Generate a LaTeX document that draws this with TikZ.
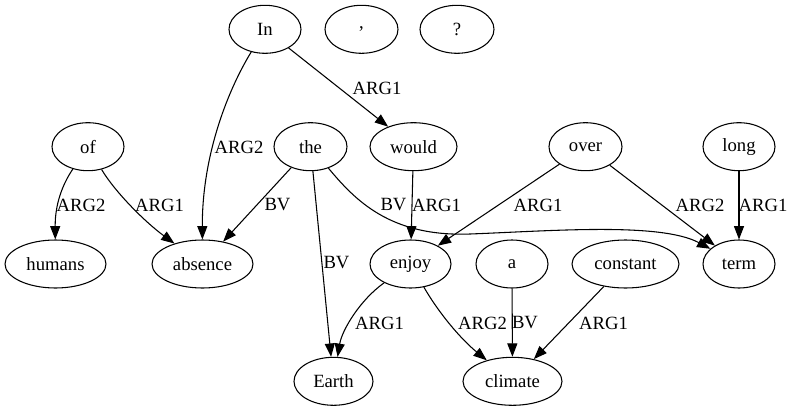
\documentclass[tikz,border=0pt]{standalone}
\usepackage{fontspec}
\setmainfont{Liberation Serif}
\usetikzlibrary{arrows.meta,shapes.geometric}
\begin{document}
\begin{tikzpicture}[x=0.75pt,y=-0.75pt,
  nd/.style={ellipse,draw,line width=0.8pt,inner sep=0pt,minimum height=36pt,font=\fontsize{14pt}{16pt}\selectfont},
  lbl/.style={inner sep=0pt,font=\fontsize{14pt}{16pt}\selectfont},
  edge/.style={draw,line width=0.8pt,-{Triangle[length=10pt,width=7.5pt]}}]
\useasboundingbox (0,0) rectangle (793,411);
% nodes
\node[nd,minimum width=54pt]    (In)       at (265,29.3)   {In};
\node[nd,minimum width=54.75pt] (comma)    at (361.5,29.3) {,};
\node[nd,minimum width=55.5pt]  (qm)       at (457,29.3)   {?};
\node[nd,minimum width=54pt]    (of)       at (88,146.7)   {of};
\node[nd,minimum width=54.75pt] (the)      at (310.5,146.7){the};
\node[nd,minimum width=65.25pt] (would)    at (413.5,146.7){would};
\node[nd,minimum width=54.75pt] (over)     at (585.5,146.7){over};
\node[nd,minimum width=54pt]    (long)     at (739,146.7)  {long};
\node[nd,minimum width=75.75pt] (humans)   at (55.5,264)   {humans};
\node[nd,minimum width=75.75pt] (absence)  at (202.5,264)  {absence};
\node[nd,minimum width=60.75pt] (enjoy)    at (410.5,264)  {enjoy};
\node[nd,minimum width=54pt]    (a)        at (512,264)    {a};
\node[nd,minimum width=80.25pt] (constant) at (625.5,264)  {constant};
\node[nd,minimum width=54pt]    (term)     at (739,264)    {term};
\node[nd,minimum width=59.25pt] (Earth)    at (333.5,381.3){Earth};
\node[nd,minimum width=74.25pt] (climate)  at (512.5,381.3){climate};
% edges
\path[edge] (In) .. controls (225,95) and (202,160) .. (absence);
\path[edge] (In) -- (would);
\path[edge] (of) .. controls (62,185) and (55,205) .. (humans);
\path[edge] (of) .. controls (115,192) and (145,222) .. (absence);
\path[edge] (the) -- (absence);
\path[edge] (the) -- (Earth);
\path[edge] (the) .. controls (355,200) and (390,237) .. (470,234) .. controls (550,231) and (660,222) .. (term);
\path[edge] (would) -- (enjoy);
\path[edge] (over) -- (enjoy);
\path[edge] (over) -- (term);
\path[edge] (long) -- (term);
\path[edge] (enjoy) .. controls (360,300) and (342,330) .. (Earth);
\path[edge] (enjoy) .. controls (440,315) and (462,340) .. (climate);
\path[edge] (a) -- (climate);
\path[edge] (constant) -- (climate);
% labels
\node[lbl] (l1)  at (239,147)   {ARG2};
\node[lbl] (l2)  at (377,88)    {ARG1};
\node[lbl] (l3)  at (81,205)    {ARG2};
\node[lbl] (l4)  at (159.5,205) {ARG1};
\node[lbl] (l5)  at (277.5,205) {BV};
\node[lbl] (l6)  at (336.5,263) {BV};
\node[lbl] (l7)  at (393.5,205) {BV};
\node[lbl] (l8)  at (436.5,205) {ARG1};
\node[lbl] (l9)  at (538,205)   {ARG1};
\node[lbl] (l10) at (700,205)   {ARG2};
\node[lbl] (l11) at (763,205)   {ARG1};
\node[lbl] (l12) at (379.5,323) {ARG1};
\node[lbl] (l13) at (482.5,323) {ARG2};
\node[lbl] (l14) at (525,323)   {BV};
\node[lbl] (l15) at (603.5,323) {ARG1};
\end{tikzpicture}
\end{document}
